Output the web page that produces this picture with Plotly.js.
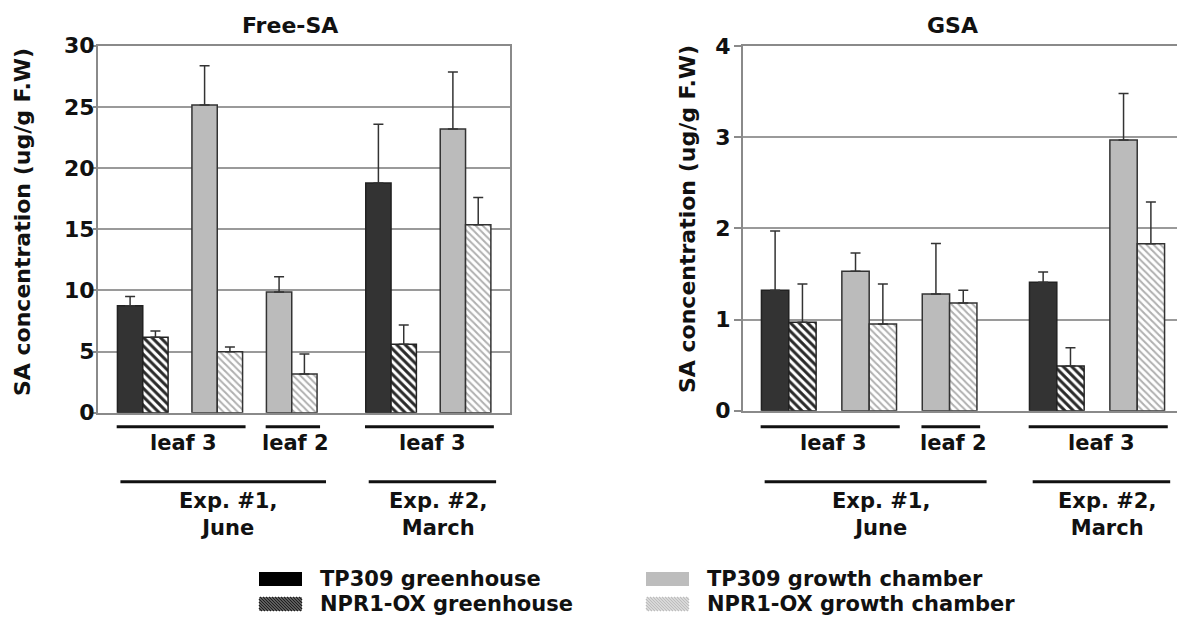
<!DOCTYPE html>
<html>
<head>
<meta charset="utf-8">
<script src="https://cdn.plot.ly/plotly-3.0.1.min.js"></script>
<style>
  html, body { margin: 0; padding: 0; background: #ffffff; }
  #chart { width: 1177px; height: 625px; }
</style>
</head>
<body>
<div id="chart"></div>
<script>
// ---------------- data ----------------
const categories = [
  'Exp. #1 leaf 3 greenhouse',
  'Exp. #1 leaf 3 growth chamber',
  'Exp. #1 leaf 2 growth chamber',
  'Exp. #2 leaf 3 greenhouse',
  'Exp. #2 leaf 3 growth chamber'
];
const greenhouseCats = ['Exp. #1 leaf 3 greenhouse', 'Exp. #2 leaf 3 greenhouse'];
const chamberCats = ['Exp. #1 leaf 3 growth chamber', 'Exp. #1 leaf 2 growth chamber', 'Exp. #2 leaf 3 growth chamber'];

const seriesNames = ['TP309 greenhouse', 'NPR1-OX greenhouse', 'TP309 growth chamber', 'NPR1-OX growth chamber'];

// Free-SA (ug/g F.W)
const freeTP309GH = [8.75, 18.78];
const freeTP309GHErr = [0.74, 4.80];
const freeNPR1GH = [6.16, 5.59];
const freeNPR1GHErr = [0.52, 1.58];
const freeTP309GC = [25.15, 9.87, 23.20];
const freeTP309GCErr = [3.22, 1.25, 4.66];
const freeNPR1GC = [4.99, 3.16, 15.37];
const freeNPR1GCErr = [0.38, 1.64, 2.23];

// GSA (ug/g F.W)
const gsaTP309GH = [1.32, 1.41];
const gsaTP309GHErr = [0.65, 0.11];
const gsaNPR1GH = [0.97, 0.49];
const gsaNPR1GHErr = [0.42, 0.20];
const gsaTP309GC = [1.53, 1.28, 2.97];
const gsaTP309GCErr = [0.20, 0.555, 0.51];
const gsaNPR1GC = [0.95, 1.18, 1.83];
const gsaNPR1GCErr = [0.44, 0.14, 0.46];

const leafLabels = ['leaf 3', 'leaf 2', 'leaf 3'];
const leafGroups = [
  ['Exp. #1 leaf 3 greenhouse', 'Exp. #1 leaf 3 growth chamber'],
  ['Exp. #1 leaf 2 growth chamber'],
  ['Exp. #2 leaf 3 greenhouse', 'Exp. #2 leaf 3 growth chamber']
];
const expLabels = ['Exp. #1,<br>June', 'Exp. #2,<br>March'];
const expGroups = [
  ['Exp. #1 leaf 3 greenhouse', 'Exp. #1 leaf 2 growth chamber'],
  ['Exp. #2 leaf 3 greenhouse', 'Exp. #2 leaf 3 growth chamber']
];
const panelTitles = ['Free-SA', 'GSA'];
const yTitle = 'SA concentration (ug/g F.W)';

// ---------------- layout helpers ----------------
const GAP = 1 / 3;          // extra space between the two experiments
const BW = 0.34;            // bar width in slot units
const pos = c => { const i = categories.indexOf(c); return i + (i >= 3 ? GAP : 0); };

const FONT = 'DejaVu Sans, Liberation Sans, Arial, sans-serif';
const INK = '#111111';

const styles = {
  'TP309 greenhouse': { color: '#333333', line: { color: '#222222', width: 1.5 } },
  'NPR1-OX greenhouse': { color: '#ffffff', line: { color: '#222222', width: 1.5 },
    pattern: { shape: '\\', fgcolor: '#2a2a2a', bgcolor: '#ffffff', size: 6, solidity: 0.5 } },
  'TP309 growth chamber': { color: '#bbbbbb', line: { color: '#333333', width: 1.5 } },
  'NPR1-OX growth chamber': { color: '#ffffff', line: { color: '#333333', width: 1.5 },
    pattern: { shape: '\\', fgcolor: '#b0b0b0', bgcolor: '#ffffff', size: 5, solidity: 0.4 } }
};

function barTrace(name, cats, vals, errs, xa, ya, offset) {
  return {
    type: 'bar', name: name, x: cats.map(pos), y: vals,
    width: BW, offset: offset, xaxis: xa, yaxis: ya,
    marker: styles[name], showlegend: false,
    text: cats, hovertemplate: '%{text}<br>' + name + ': %{y}<extra></extra>', textposition: 'none',
    error_y: { type: 'data', symmetric: false, array: errs, arrayminus: errs.map(() => 0),
               color: '#333333', thickness: 1.5, width: 5 }
  };
}

const traces = [
  barTrace('TP309 greenhouse', greenhouseCats, freeTP309GH, freeTP309GHErr, 'x', 'y', -BW),
  barTrace('NPR1-OX greenhouse', greenhouseCats, freeNPR1GH, freeNPR1GHErr, 'x', 'y', 0),
  barTrace('TP309 growth chamber', chamberCats, freeTP309GC, freeTP309GCErr, 'x', 'y', -BW),
  barTrace('NPR1-OX growth chamber', chamberCats, freeNPR1GC, freeNPR1GCErr, 'x', 'y', 0),
  barTrace('TP309 greenhouse', greenhouseCats, gsaTP309GH, gsaTP309GHErr, 'x2', 'y2', -BW),
  barTrace('NPR1-OX greenhouse', greenhouseCats, gsaNPR1GH, gsaNPR1GHErr, 'x2', 'y2', 0),
  barTrace('TP309 growth chamber', chamberCats, gsaTP309GC, gsaTP309GCErr, 'x2', 'y2', -BW),
  barTrace('NPR1-OX growth chamber', chamberCats, gsaNPR1GC, gsaNPR1GCErr, 'x2', 'y2', 0)
];

const W = 1177, H = 625;
const px = x => x / W, py = y => 1 - y / H;

const axisX = (domain, range, mirror) => ({
  domain: domain, range: range, showticklabels: false, ticks: '', showgrid: false,
  zeroline: false, showline: true, linecolor: '#8a8a8a', linewidth: 1.5, mirror: mirror, fixedrange: true
});
const axisY = (domain, range, dtick, ticklen, standoff, anchor, mirror) => ({
  domain: domain, range: range, dtick: dtick, anchor: anchor, showgrid: true, gridcolor: '#9a9a9a',
  gridwidth: 1.5, zeroline: false, showline: true, linecolor: '#8a8a8a', linewidth: 1.5, mirror: mirror,
  ticks: 'outside', ticklen: ticklen, tickwidth: 1.5, tickcolor: '#8a8a8a', fixedrange: true,
  ticklabelstandoff: standoff,
  tickfont: { family: FONT, size: 22, color: INK, weight: 'bold' }
});

const shapes = [];
const annotations = [];
const txt = (extra) => Object.assign({ showarrow: false, xanchor: 'center', yanchor: 'middle',
  font: { family: FONT, size: 21, color: INK, weight: 'bold' } }, extra);

function panelDecor(xref, leafY, expY, leafTextY, expTextY) {
  leafGroups.forEach((g, i) => {
    const a = pos(g[0]), b = pos(g[g.length - 1]);
    shapes.push({ type: 'line', xref: xref, yref: 'paper', x0: a - BW - 0.01, x1: b + BW + 0.04,
                  y0: leafY, y1: leafY, line: { color: INK, width: 3 } });
    annotations.push(txt({ xref: xref, yref: 'paper', x: (a + b) / 2 + 0.05, y: leafTextY, text: leafLabels[i] }));
  });
  expGroups.forEach((g, i) => {
    const a = pos(g[0]), b = pos(g[g.length - 1]);
    const x0 = a - BW + 0.04, x1 = (i === 0) ? b + BW + 0.12 : b + BW + 0.07;
    shapes.push({ type: 'line', xref: xref, yref: 'paper', x0: x0, x1: x1,
                  y0: expY, y1: expY, line: { color: INK, width: 3 } });
    annotations.push(txt({ xref: xref, yref: 'paper', x: (x0 + x1) / 2 + 0.07, y: expTextY, text: expLabels[i] }));
  });
}
panelDecor('x', py(426.7), py(481.7), py(443), py(514));
panelDecor('x2', py(426.7), py(481.7), py(443), py(514));

// panel titles and y titles
const big = { family: FONT, size: 22, color: INK, weight: 'bold' };
annotations.push(txt({ xref: 'paper', yref: 'paper', x: px(290), y: py(25), text: panelTitles[0], font: big }));
annotations.push(txt({ xref: 'paper', yref: 'paper', x: px(952.5), y: py(26), text: panelTitles[1], font: big }));
annotations.push(txt({ xref: 'paper', yref: 'paper', x: px(23), y: py(222), text: yTitle, textangle: -90, font: big }));
annotations.push(txt({ xref: 'paper', yref: 'paper', x: px(687), y: py(219), text: yTitle, textangle: -90, font: big }));

// legend (drawn as keys + labels)
function hatchPath(x0, y0, x1, y1, step) {
  // diagonal lines running from upper-left to lower-right, in pixel space, clipped to the box
  let d = '';
  for (let c = x0 - y1; c <= x1 - y0; c += step) {
    let ya = Math.max(y0, x0 - c), yb = Math.min(y1, x1 - c);
    if (yb - ya < 0.5) continue;
    d += 'M' + px(ya + c).toFixed(5) + ',' + py(ya).toFixed(5) + 'L' + px(yb + c).toFixed(5) + ',' + py(yb).toFixed(5);
  }
  return d;
}
const legendKeys = [
  { name: seriesNames[0], x: 259, y: 579 },
  { name: seriesNames[1], x: 259, y: 604 },
  { name: seriesNames[2], x: 646, y: 579 },
  { name: seriesNames[3], x: 646, y: 604 }
];
const KW = 43, KH = 14;
legendKeys.forEach(k => {
  const st = styles[k.name];
  const x0 = k.x, x1 = k.x + KW, y0 = k.y - KH / 2, y1 = k.y + KH / 2;
  if (st.pattern) {
    const dark = k.name === 'NPR1-OX greenhouse';
    shapes.push({ type: 'rect', xref: 'paper', yref: 'paper', x0: px(x0), x1: px(x1), y0: py(y1), y1: py(y0),
                  fillcolor: dark ? '#9a9a9a' : '#f2f2f2', line: { width: 0 } });
    shapes.push({ type: 'path', xref: 'paper', yref: 'paper', path: hatchPath(x0, y0, x1, y1, 3),
                  line: { color: dark ? '#1e1e1e' : '#bdbdbd', width: 1.4 } });
  } else {
    shapes.push({ type: 'rect', xref: 'paper', yref: 'paper', x0: px(x0), x1: px(x1), y0: py(y1), y1: py(y0),
                  fillcolor: k.name === 'TP309 greenhouse' ? '#000000' : '#bdbdbd', line: { width: 0 } });
  }
  annotations.push(txt({ xref: 'paper', yref: 'paper', x: px(x1 + 16), y: py(k.y), xanchor: 'left', text: k.name }));
});

const layout = {
  width: W, height: H,
  margin: { l: 0, r: 0, t: 0, b: 0 },
  paper_bgcolor: '#ffffff', plot_bgcolor: '#ffffff',
  barmode: 'overlay',
  showlegend: false,
  xaxis: axisX([px(97.7), px(510)], [-0.605, 4.93], true),
  yaxis: axisY([py(412.7), py(45.7)], [0, 30], 5, 3, -6, 'x', true),
  xaxis2: Object.assign(axisX([px(742.7), 1], [-0.573, 4.828], true), { anchor: 'y2' }),
  yaxis2: axisY([py(410.7), py(46)], [0, 4], 1, 7, -1, 'x2', false),
  shapes: shapes,
  annotations: annotations
};

Plotly.newPlot('chart', traces, layout, { displayModeBar: false, responsive: false });
</script>
</body>
</html>
